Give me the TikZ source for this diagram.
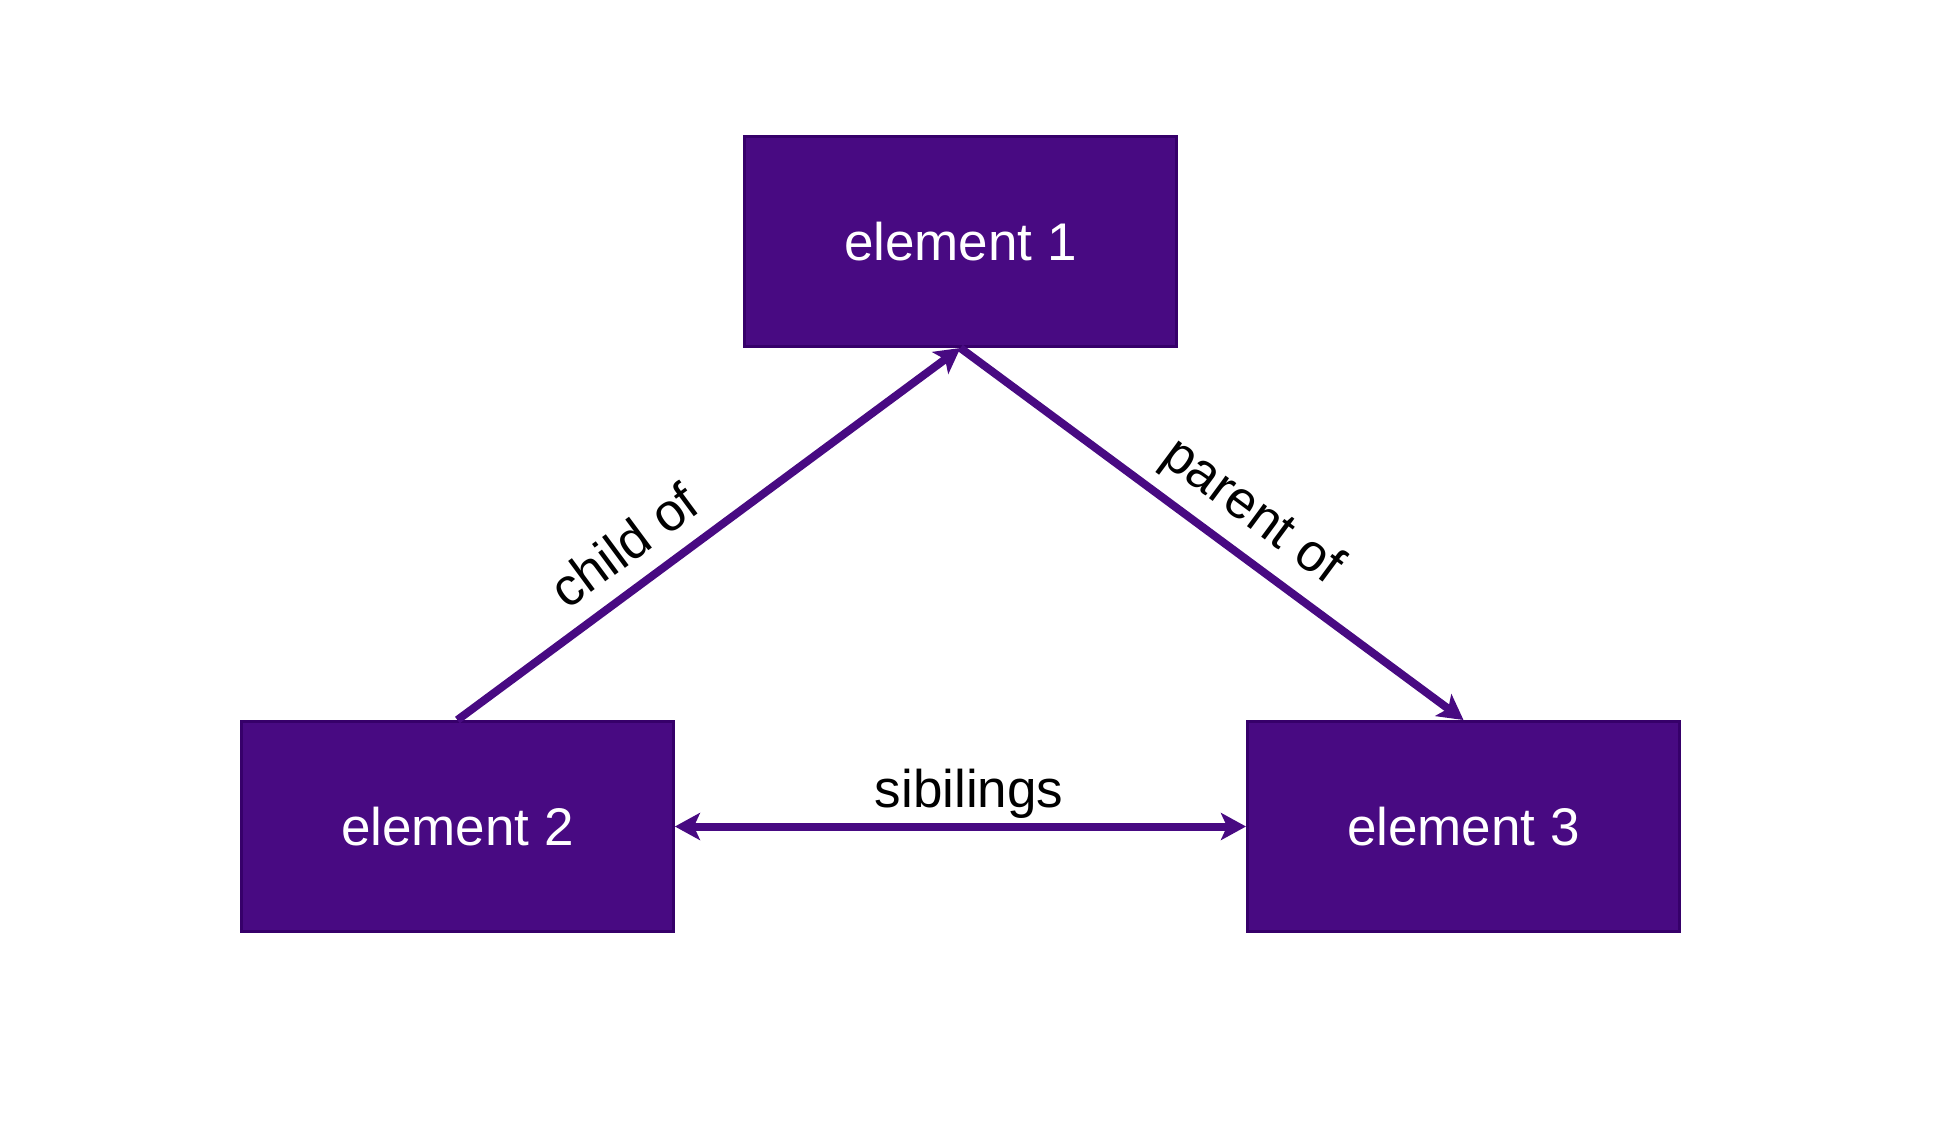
\documentclass[tikz,border=0pt]{standalone}
\usepackage{fontspec}
\setmainfont{Liberation Sans}
\usetikzlibrary{shapes,arrows.meta}
\definecolor{elemfill}{HTML}{480A82}
\definecolor{elemline}{HTML}{36006A}
\tikzset{
	element/.style  = {draw=elemline, line width=1.5pt, fill=elemfill, rectangle,
		text=white, minimum width=216pt, minimum height=105pt},
	relation/.style = {draw=elemfill, line width=4pt},
	reltext/.style  = {text=black, inner sep=2pt} % edge labels
}
\newcommand{\elemfont}{\fontsize{26.5}{30}\selectfont}

\begin{document}
\begin{tikzpicture}[>={Stealth[length=12.5pt,width=13.5pt,inset=3pt]}, font=\elemfont]
	\useasboundingbox (0,0) rectangle (975pt,-567pt);
	\draw
	% Drawing the three elements
	node at (480.2pt,-120.75pt) [element] (e1) {element 1}
	node at (228.7pt,-413.25pt) [element] (e2) {element 2}
	node at (731.75pt,-413.25pt) [element] (e3) {element 3};
	
	\draw[relation,->](e2.north) -- node[reltext, sloped, above=7pt, pos=0.38] {child of} (e1.south);
	\draw[relation,->](e1.south) -- node[reltext, sloped, above=4pt, pos=0.53] {parent of} (e3.north);
	\draw[relation,<->](e2.east) -- node[reltext, above=0pt, pos=0.515] {sibilings} (e3.west);
	
\end{tikzpicture}
\end{document}
